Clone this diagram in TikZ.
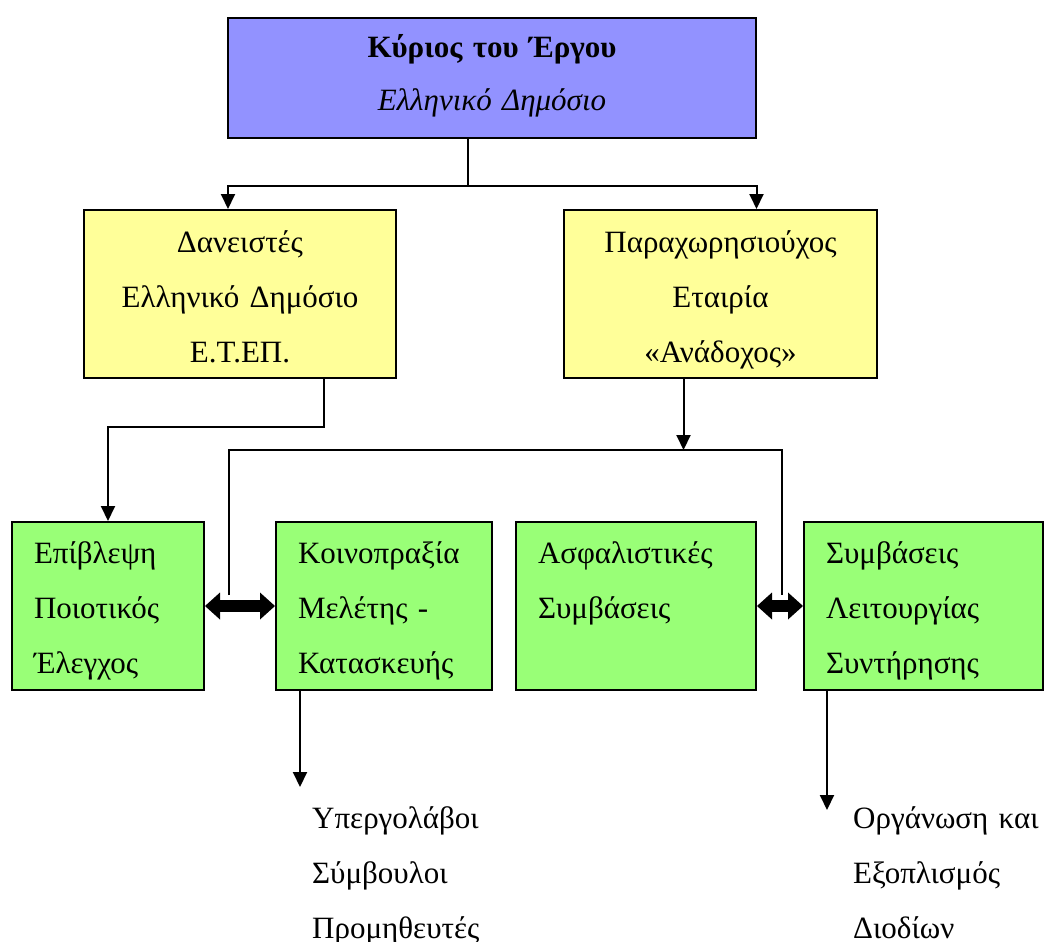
\documentclass[tikz,border=0pt]{standalone}
\usepackage{fontspec}
\setmainfont{Liberation Serif}
\usetikzlibrary{arrows.meta}
\definecolor{ownerblue}{RGB}{146,146,255}
\definecolor{partyellow}{RGB}{255,255,153}
\definecolor{partgreen}{RGB}{153,255,119}
\newcommand{\boxfont}{\fontsize{31pt}{55pt}\selectfont}
\begin{document}
\begin{tikzpicture}[x=1pt,y=-1pt,
    box/.style={draw, line width=2pt, anchor=north west, inner xsep=22pt, inner ysep=0pt, font=\boxfont},
    ownerbox/.style={box, fill=ownerblue, align=center, text height=40pt, text depth=80pt},
    yellowbox/.style={box, fill=partyellow, align=center, text height=42pt, text depth=126pt},
    greenbox/.style={box, fill=partgreen, align=left, text height=41pt, text depth=127pt},
    note/.style={anchor=base west, align=left, inner sep=0pt, text width=200pt, font=\boxfont},
    line/.style={line width=2pt},
    arr/.style={line width=2pt, -{Triangle[length=15pt,width=14pt]}},
    dbl/.style={line width=12pt, {Triangle[length=15pt,width=27pt,line width=0pt]}-{Triangle[length=15pt,width=27pt,line width=0pt]}}]
    \useasboundingbox (0,0) rectangle (1044,942);

    % boxes
    \node[ownerbox, text width=484pt] (owner) at (227,17) {\textbf{Κύριος του Έργου}\\[-2pt]\textit{Ελληνικό Δημόσιο}};
    \node[yellowbox, text width=268pt] (lend) at (83,209) {Δανειστές\\Ελληνικό Δημόσιο\\Ε.Τ.ΕΠ.};
    \node[yellowbox, text width=269pt] (conc) at (563,209) {Παραχωρησιούχος\\Εταιρία\\«Ανάδοχος»};
    \node[greenbox, text width=148pt] (sup) at (11,521) {Επίβλεψη\\Ποιοτικός\\Έλεγχος};
    \node[greenbox, text width=172pt] (jv) at (275,521) {Κοινοπραξία\\Μελέτης -\\Κατασκευής};
    \node[greenbox, text width=196pt] (ins) at (515,521) {Ασφαλιστικές\\Συμβάσεις};
    \node[greenbox, text width=195pt] (ops) at (803,521) {Συμβάσεις\\Λειτουργίας\\Συντήρησης};

    % free texts
    \node[note] (subs) at (312,828) {Υπεργολάβοι\\Σύμβουλοι\\Προμηθευτές};
    \node[note] (toll) at (853,828) {Οργάνωση και\\Εξοπλισμός\\Διοδίων};

    % connectors
    \draw[line] ([xshift=-24pt]owner.south) -- ++(0,47) coordinate (fork);
    \draw[arr] (fork) -| ([xshift=-12pt]lend.north);
    \draw[arr] (fork) -| ([xshift=36pt]conc.north);
    \draw[arr] ([xshift=84pt]lend.south) -- ++(0,48) -| (sup.north);
    \draw[arr] ([xshift=-37pt]conc.south) -- ++(0,71) coordinate (bus);
    \draw[line] ([xshift=24pt,yshift=11pt]sup.east) |- (bus) -| ([xshift=25pt,yshift=11pt]ins.east);
    \draw[dbl] (sup.east) -- (jv.west);
    \draw[dbl] (ins.east) -- (ops.west);
    \draw[arr] ([xshift=25pt]jv.south west) -- ++(0,96);
    \draw[arr] ([xshift=24pt]ops.south west) -- ++(0,119);
\end{tikzpicture}
\end{document}
